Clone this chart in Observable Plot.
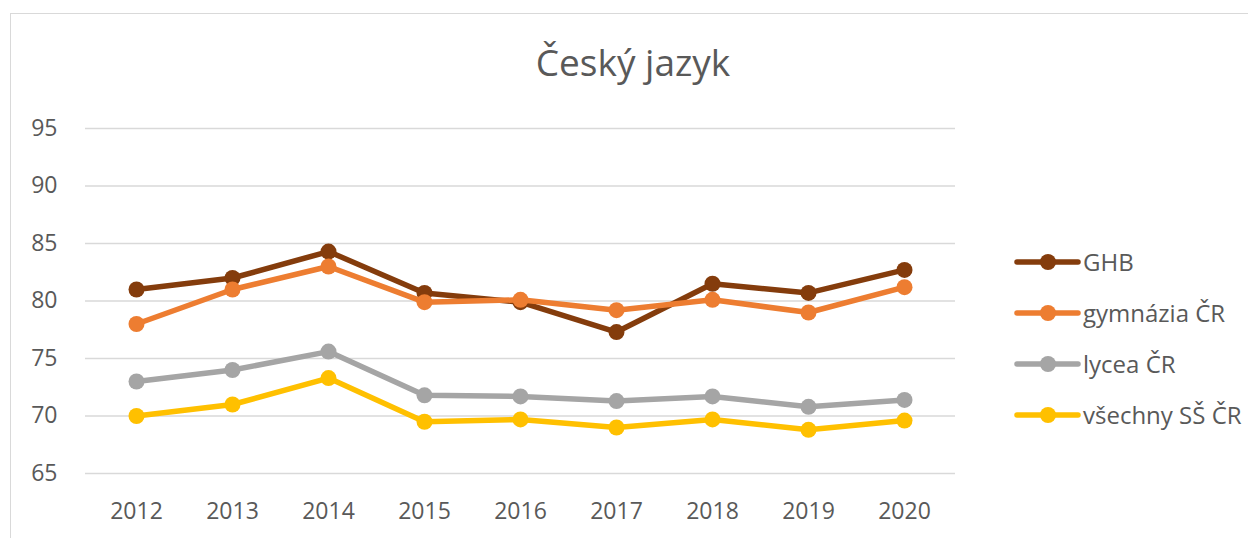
<!DOCTYPE html>
<html>
<head>
<meta charset="utf-8">
<script src="https://cdn.jsdelivr.net/npm/d3@7"></script>
<script src="https://cdn.jsdelivr.net/npm/@observablehq/plot@0.6"></script>
<style>
  html, body { margin: 0; padding: 0; background: #fff; }
  #wrap { position: relative; width: 1248px; height: 538px; overflow: hidden; font-family: "Open Sans", sans-serif; }
  #frame { position: absolute; left: 10px; top: 13px; width: 1300px; height: 600px; border: 1.3px solid #d9d9d9; box-sizing: border-box; }
  #title { position: absolute; left: 0; width: 1266px; top: 37px; text-align: center; font-size: 37px; color: #595959; line-height: 50px; }
  #legend { position: absolute; left: 1012px; top: 236px; }
  .item { display: flex; align-items: center; height: 51px; font-size: 24px; color: #595959; }
  .item svg { margin-right: 1px; }
  #chart { position: absolute; left: 0; top: 0; }
</style>
</head>
<body>
<div id="wrap">
  <div id="frame"></div>
  <div id="title">Český jazyk</div>
  <div id="chart"></div>
  <div id="legend"></div>
</div>
<script>
const years = ["2012","2013","2014","2015","2016","2017","2018","2019","2020"];
const seriesNames = ["GHB", "gymnázia ČR", "lycea ČR", "všechny SŠ ČR"];
const seriesColors = ["#843c0c", "#ed7d31", "#a5a5a5", "#ffc000"];
const ghb   = [81.0, 82.0, 84.3, 80.7, 79.9, 77.3, 81.5, 80.7, 82.7];
const gym   = [78.0, 81.0, 83.0, 79.9, 80.1, 79.2, 80.1, 79.0, 81.2];
const lycea = [73.0, 74.0, 75.6, 71.8, 71.7, 71.3, 71.7, 70.8, 71.4];
const ss    = [70.0, 71.0, 73.3, 69.5, 69.7, 69.0, 69.7, 68.8, 69.6];
const yTicks = [65, 70, 75, 80, 85, 90, 95];

const allSeries = [ghb, gym, lycea, ss];
const rows = [];
allSeries.forEach((vals, si) => {
  vals.forEach((v, i) => rows.push({ series: seriesNames[si], year: years[i], value: v }));
});

const marks = [
  Plot.ruleY(yTicks, { stroke: "#d9d9d9", strokeWidth: 1.5 })
];
seriesNames.forEach((name, si) => {
  const d = rows.filter(r => r.series === name);
  marks.push(Plot.line(d, { x: "year", y: "value", stroke: seriesColors[si], strokeWidth: 5.5, strokeLinejoin: "round" }));
  marks.push(Plot.dot(d, { x: "year", y: "value", fill: seriesColors[si], r: 8 }));
});

const chart = Plot.plot({
  width: 1248,
  height: 538,
  marginLeft: 85,
  marginRight: 293,
  marginTop: 128,
  marginBottom: 65,
  style: { fontFamily: "Open Sans, sans-serif", fontSize: "23px", color: "#595959", background: "transparent" },
  x: { type: "point", domain: years, padding: 0.5, label: null, tickSize: 0, tickPadding: 29 },
  y: { domain: [65, 95], ticks: yTicks, label: null, tickSize: 0, tickPadding: 28 },
  marks
});
document.getElementById("chart").appendChild(chart);

const legend = document.getElementById("legend");
seriesNames.forEach((name, si) => {
  const item = document.createElement("div");
  item.className = "item";
  item.innerHTML = `<svg width="70" height="20"><line x1="5" y1="10" x2="66" y2="10" stroke="${seriesColors[si]}" stroke-width="5.5" stroke-linecap="round"/><circle cx="36" cy="10" r="8" fill="${seriesColors[si]}"/></svg><span>${name}</span>`;
  legend.appendChild(item);
});
</script>
</body>
</html>
